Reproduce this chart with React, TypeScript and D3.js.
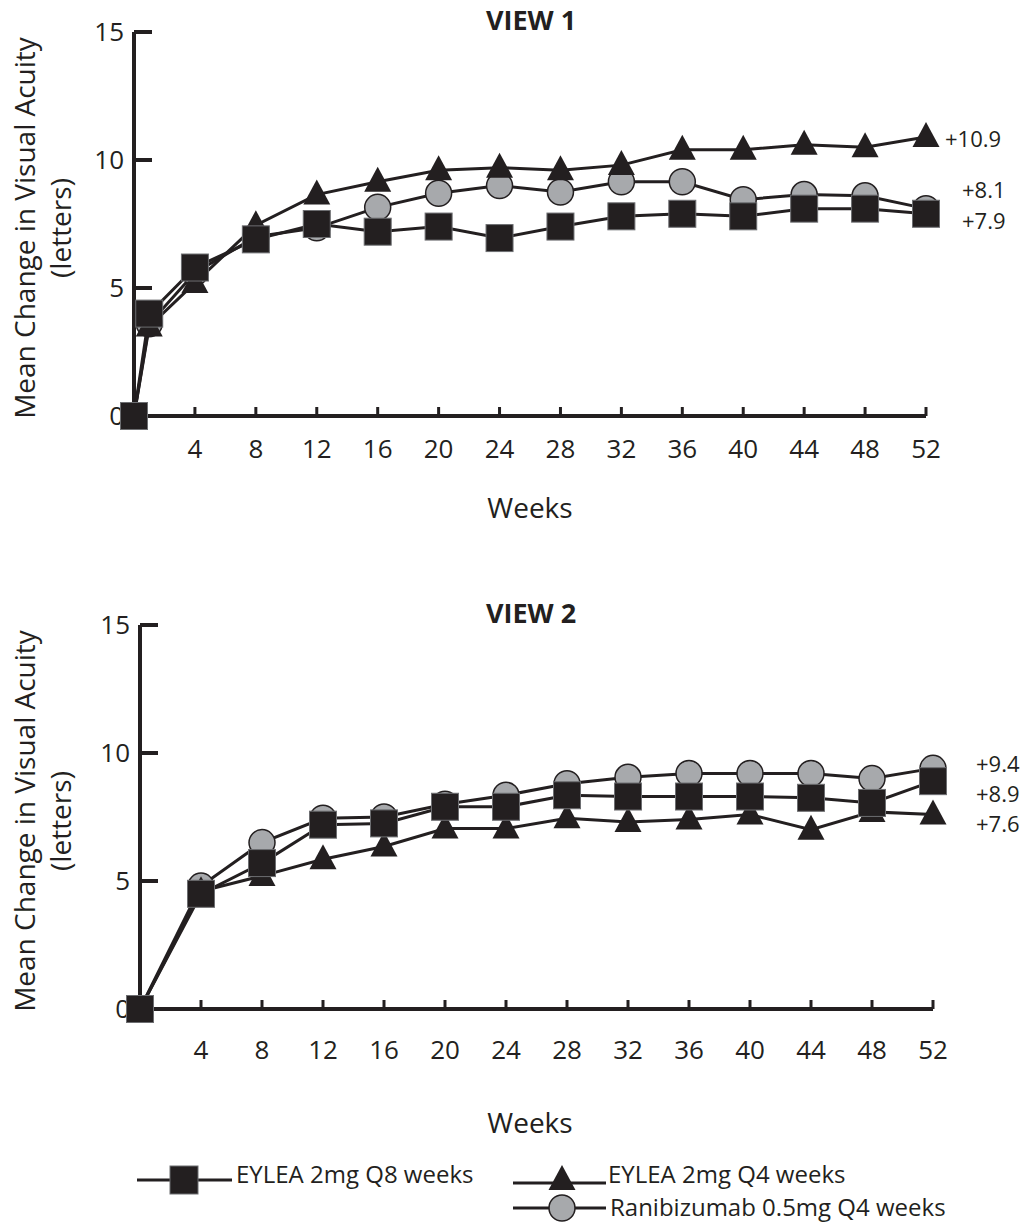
import React from 'react';
import * as d3 from 'd3';

// weeks on the x axis
const weeksView1 = [0, 1, 4, 8, 12, 16, 20, 24, 28, 32, 36, 40, 44, 48, 52];
const weeksView2 = [0, 4, 8, 12, 16, 20, 24, 28, 32, 36, 40, 44, 48, 52];
const weekTicks = [4, 8, 12, 16, 20, 24, 28, 32, 36, 40, 44, 48, 52];
const yTicks = [0, 5, 10, 15];

// VIEW 1 mean change (letters)
const view1Q8 = [0, 4.0, 5.8, 6.9, 7.5, 7.2, 7.4, 6.95, 7.4, 7.8, 7.9, 7.8, 8.1, 8.1, 7.9];
const view1Q4 = [0, 3.5, 5.2, 7.45, 8.65, 9.15, 9.6, 9.7, 9.6, 9.8, 10.4, 10.4, 10.6, 10.5, 10.9];
const view1Rani = [0, 3.6, 5.6, 7.0, 7.35, 8.15, 8.7, 9.0, 8.75, 9.15, 9.15, 8.45, 8.65, 8.6, 8.1];

// VIEW 2 mean change (letters)
const view2Q8 = [0, 4.5, 5.7, 7.2, 7.25, 7.9, 7.9, 8.35, 8.3, 8.3, 8.3, 8.25, 8.05, 8.9];
const view2Q4 = [0, 4.6, 5.2, 5.85, 6.35, 7.05, 7.05, 7.45, 7.3, 7.4, 7.6, 7.0, 7.7, 7.6];
const view2Rani = [0, 4.8, 6.5, 7.45, 7.5, 8.0, 8.35, 8.8, 9.05, 9.2, 9.2, 9.2, 9.0, 9.4];

const seriesNames = ['EYLEA 2mg Q8 weeks', 'EYLEA 2mg Q4 weeks', 'Ranibizumab 0.5mg Q4 weeks'];
const endLabels1 = ['+7.9', '+10.9', '+8.1'];
const endLabels2 = ['+8.9', '+7.6', '+9.4'];

const INK = '#231f20';
const GREY = '#a7a9ac';
const FONT = '"Open Sans", sans-serif';

const Square = ({ x, y, s = 27 }) => (
  <rect x={x - s / 2} y={y - s / 2} width={s} height={s} fill={INK} stroke="#6d6e71" strokeWidth={1} />
);
const Triangle = ({ x, y, w = 27, h = 25 }) => (
  <path d={`M${x},${y - h * 0.6}L${x + w / 2},${y + h * 0.4}L${x - w / 2},${y + h * 0.4}Z`} fill={INK} />
);
const Circle = ({ x, y, r = 13 }) => (
  <circle cx={x} cy={y} r={r} fill={GREY} stroke={INK} strokeWidth={1.5} />
);

const Chart = ({ title, weeks, q8, q4, rani, labels, labelYs, labelX, x0, x1, y0, y1, tickDy, weeksY, titleY }) => {
  const x = d3.scaleLinear().domain([0, 52]).range([x0, x1]);
  const y = d3.scaleLinear().domain([0, 15]).range([y0, y1]);
  const line = (vals) =>
    d3.line<number>().x((_, i) => x(weeks[i])).y((d) => y(d))(vals) || '';
  const midY = (y0 + y1) / 2 + 4;

  return (
    <g>
      <text x={531} y={titleY} textAnchor="middle" fontWeight="bold" fontSize={27} fontFamily={FONT} fill={INK}>
        {title}
      </text>
      {/* y axis title */}
      <g transform={`translate(35, ${midY}) rotate(-90)`}>
        <text x={0} y={0} textAnchor="middle" fontSize={28} fontFamily={FONT} fill={INK}>
          Mean Change in Visual Acuity
        </text>
        <text x={0} y={36} textAnchor="middle" fontSize={28} fontFamily={FONT} fill={INK}>
          (letters)
        </text>
      </g>
      {/* axes */}
      <line x1={x(0)} x2={x(0)} y1={y(15)} y2={y(0)} stroke={INK} strokeWidth={4} />
      <line x1={x(0)} x2={x(52)} y1={y(0)} y2={y(0)} stroke={INK} strokeWidth={4} />
      {yTicks.filter((t) => t > 0).map((t) => (
        <line key={t} x1={x(0)} x2={x(0) + 18} y1={y(t)} y2={y(t)} stroke={INK} strokeWidth={4} />
      ))}
      {yTicks.map((t) => (
        <text key={t} x={x(0) - 10} y={y(t)} dy="0.35em" textAnchor="end" fontSize={26} fontFamily={FONT} fill={INK}>
          {t}
        </text>
      ))}
      {weekTicks.map((w) => (
        <line key={w} x1={x(w)} x2={x(w)} y1={y(0)} y2={y(0) - 9} stroke={INK} strokeWidth={3} />
      ))}
      {weekTicks.map((w) => (
        <text key={w} x={x(w)} y={y(0) + tickDy} textAnchor="middle" fontSize={26} fontFamily={FONT} fill={INK}>
          {w}
        </text>
      ))}
      <text x={530} y={weeksY} textAnchor="middle" fontSize={28} fontFamily={FONT} fill={INK}>
        Weeks
      </text>
      {/* lines */}
      {[rani, q4, q8].map((s, i) => (
        <path key={i} d={line(s)} fill="none" stroke={INK} strokeWidth={3} />
      ))}
      {/* markers */}
      {rani.map((d, i) => <Circle key={'c' + i} x={x(weeks[i])} y={y(d)} />)}
      {q4.map((d, i) => <Triangle key={'t' + i} x={x(weeks[i])} y={y(d)} />)}
      {q8.map((d, i) => <Square key={'s' + i} x={x(weeks[i])} y={y(d)} />)}
      {/* end labels */}
      {labels.map((l, i) => (
        <text key={l} x={labelX[i]} y={labelYs[i]} dy="0.35em" fontSize={22} fontFamily={FONT} fill={INK}>
          {l}
        </text>
      ))}
    </g>
  );
};

const App = () => (
  <div style={{ position: 'absolute', left: 0, top: 0 }}>
    <svg width={1032} height={1226} style={{ display: 'block', background: '#fff' }}>
      <Chart
        title="VIEW 1"
        weeks={weeksView1}
        q8={view1Q8}
        q4={view1Q4}
        rani={view1Rani}
        labels={endLabels1}
        labelYs={[221, 139, 190]}
        labelX={[962, 945, 962]}
        x0={134}
        x1={926}
        y0={416}
        y1={32}
        tickDy={42}
        weeksY={518}
        titleY={30}
      />
      <Chart
        title="VIEW 2"
        weeks={weeksView2}
        q8={view2Q8}
        q4={view2Q4}
        rani={view2Rani}
        labels={endLabels2}
        labelYs={[794, 824, 764]}
        labelX={[976, 976, 976]}
        x0={140}
        x1={933}
        y0={1009}
        y1={625}
        tickDy={50}
        weeksY={1133}
        titleY={623}
      />
      {/* legend */}
      <g fontFamily={FONT} fontSize={24} fill={INK}>
        <line x1={137} x2={232} y1={1180} y2={1180} stroke={INK} strokeWidth={3} />
        <Square x={184} y={1180} s={28} />
        <text x={236} y={1183}>{seriesNames[0]}</text>
        <line x1={513} x2={606} y1={1183} y2={1183} stroke={INK} strokeWidth={3} />
        <Triangle x={562} y={1180} />
        <text x={608} y={1183}>{seriesNames[1]}</text>
        <line x1={513} x2={606} y1={1208} y2={1208} stroke={INK} strokeWidth={3} />
        <Circle x={562} y={1208} />
        <text x={610} y={1216}>{seriesNames[2]}</text>
      </g>
    </svg>
  </div>
);

export default App;
